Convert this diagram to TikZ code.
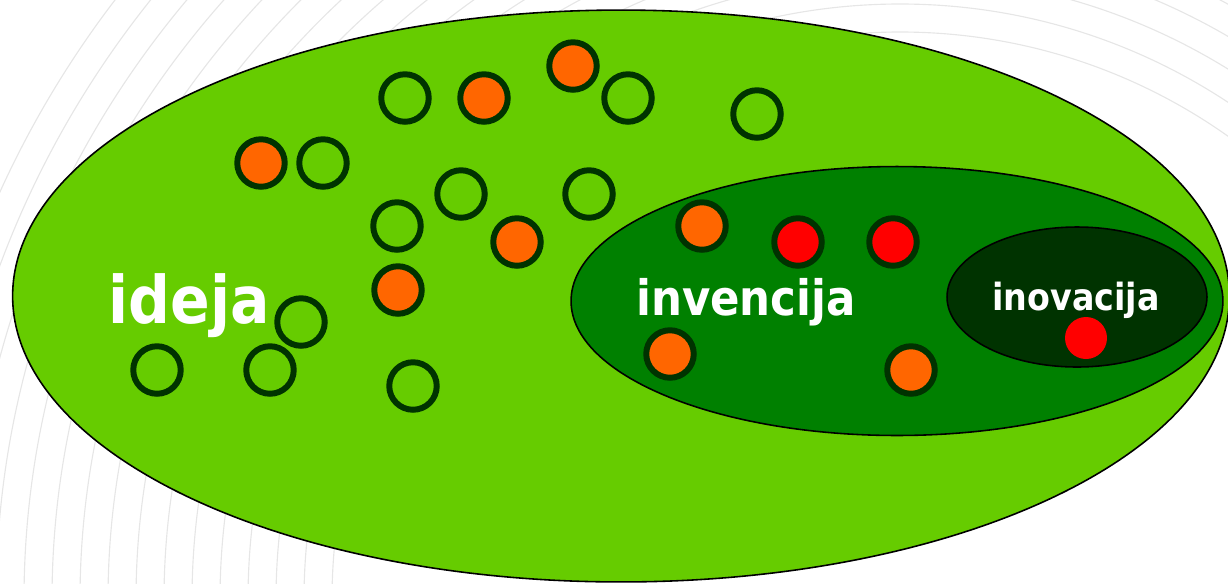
\documentclass[tikz,border=0pt]{standalone}
\usepackage{fontspec}
\usetikzlibrary{shapes.geometric}
\newfontfamily\lblfont[FakeStretch=0.89]{DejaVu Sans}
\definecolor{lightg}{HTML}{66CC00}
\definecolor{midg}{HTML}{008000}
\definecolor{darkg}{HTML}{003300}
\definecolor{orng}{HTML}{FF6600}
\definecolor{redc}{HTML}{FF0000}
\definecolor{swirl}{HTML}{E6E6E6}
\begin{document}
\begin{tikzpicture}[x=0.02cm,y=-0.02cm,
  region/.style={ellipse, draw=black, line width=0.9pt, inner sep=0pt, outer sep=0pt},
  dot/.style={circle, minimum size=0.95cm, inner sep=0pt, draw=darkg, line width=3.4pt},
  emptydot/.style={dot, fill=lightg},
  orangedot/.style={dot, fill=orng},
  reddot/.style={dot, fill=redc},
  plaindot/.style={circle, minimum size=0.84cm, inner sep=0pt, fill=redc},
  lbl/.style={text=white, font=\lblfont\bfseries, anchor=base, inner sep=0pt}]
\useasboundingbox (0,0) rectangle (1228,583);
\begin{scope}
  \clip (0,0) rectangle (1228,583);
  \foreach \r in {568,596,...,1010}
    \draw[swirl, line width=0.65pt] (900,600) circle[radius=\r];
\end{scope}
% regions
\node[region, fill=lightg, minimum width=24.34cm, minimum height=11.44cm] (ideja) at (621,296) {};
% idea dots (empty)
\node[emptydot] (e1) at (405,98) {};
\node[emptydot] (e2) at (628,98) {};
\node[emptydot] (e3) at (757,114) {};
\node[emptydot] (e4) at (323,163) {};
\node[emptydot] (e5) at (461,194) {};
\node[emptydot] (e6) at (589,194) {};
\node[emptydot] (e7) at (397,226) {};
\node[emptydot] (e8) at (301,322) {};
\node[emptydot] (e9) at (157,370) {};
\node[emptydot] (e10) at (270,370) {};
\node[emptydot] (e11) at (413,386) {};
% orange dots in idea region
\node[orangedot] (o1) at (484,98) {};
\node[orangedot] (o2) at (573,66) {};
\node[orangedot] (o3) at (261,163) {};
\node[orangedot] (o4) at (517,242) {};
\node[orangedot] (o5) at (398,290) {};
% invention region
\node[region, fill=midg, minimum width=13.04cm, minimum height=5.38cm] (invencija) at (897,301) {};
\node[orangedot] (o6) at (702,226) {};
\node[orangedot] (o7) at (670,354) {};
\node[orangedot] (o8) at (911,370) {};
\node[reddot] (r1) at (798,242) {};
\node[reddot] (r2) at (893,242) {};
% innovation region
\node[region, fill=darkg, minimum width=5.2cm, minimum height=2.8cm] (inovacija) at (1077,297) {};
\node[plaindot] (r3) at (1086,338) {};
% labels
\node[lbl, font=\lblfont\bfseries\fontsize{37.4pt}{40pt}\selectfont] (t1) at (189,323) {ideja};
\node[lbl, font=\lblfont\bfseries\fontsize{27.8pt}{30pt}\selectfont] (t2) at (746,315) {invencija};
\node[lbl, font=\lblfont\bfseries\fontsize{21.3pt}{23pt}\selectfont] (t3) at (1076,310) {inovacija};
\end{tikzpicture}
\end{document}
